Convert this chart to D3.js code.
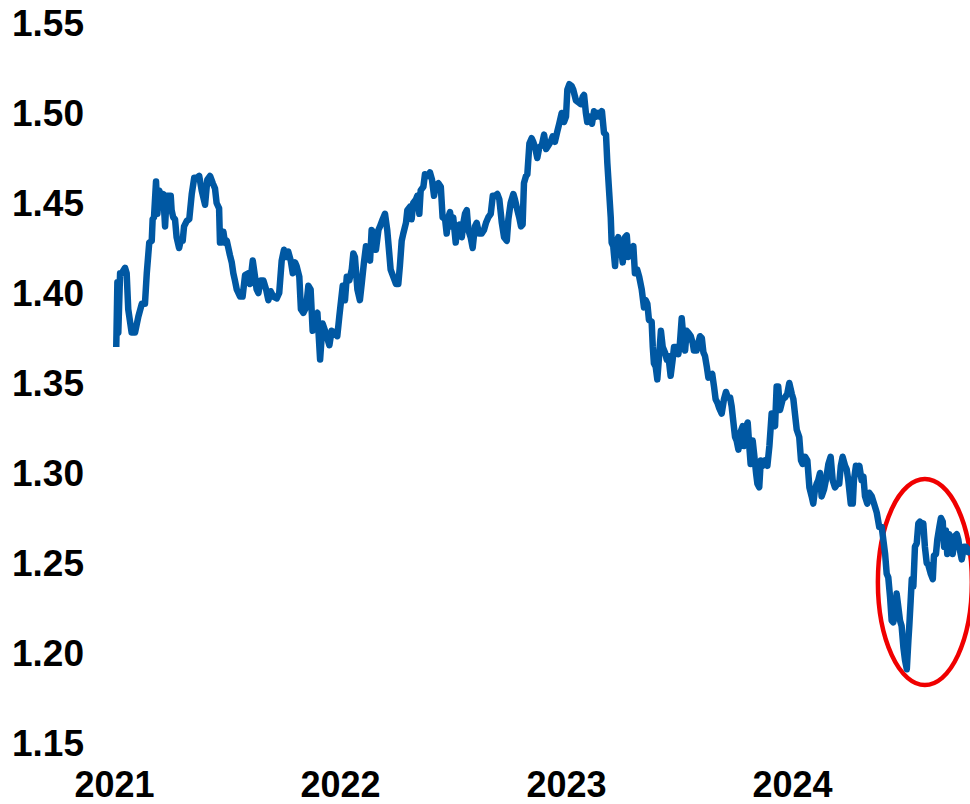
<!DOCTYPE html>
<html>
<head>
<meta charset="utf-8">
<script src="https://cdn.jsdelivr.net/npm/d3@7"></script>
<style>
	body { margin: 0; background: #fff; }
	svg { display: block; background: #fff; }
	.axis text { font-family: "Liberation Sans", Arial, sans-serif; font-weight: bold; fill: #000; }
</style>
</head>
<body>
<div id="chart"></div>
<script>
"use strict";

const width = 970, height = 804;

//---- Data: [years since 1 Jan 2021, rate]
const rate2021 = [[0.010,1.370],[0.015,1.406],[0.019,1.378],[0.027,1.411],[0.034,1.411],[0.049,1.414],[0.056,1.411],[0.063,1.391],[0.078,1.378],[0.093,1.378],[0.108,1.387],[0.123,1.394],[0.137,1.394],[0.145,1.411],[0.156,1.428],[0.167,1.429],[0.171,1.441],[0.177,1.442],[0.186,1.462],[0.192,1.444],[0.200,1.457],[0.211,1.452],[0.218,1.455],[0.226,1.437],[0.233,1.454],[0.245,1.454],[0.251,1.454],[0.255,1.446],[0.262,1.442],[0.270,1.441],[0.277,1.431],[0.288,1.425],[0.295,1.429],[0.304,1.429],[0.310,1.437],[0.322,1.440],[0.333,1.441],[0.344,1.455],[0.355,1.464],[0.366,1.464],[0.377,1.465],[0.388,1.457],[0.403,1.449],[0.413,1.463],[0.425,1.465],[0.437,1.461],[0.447,1.458],[0.454,1.450],[0.465,1.447],[0.469,1.428],[0.477,1.428],[0.484,1.434],[0.491,1.428],[0.499,1.429],[0.506,1.425],[0.513,1.421],[0.521,1.417],[0.528,1.411],[0.535,1.407],[0.543,1.402],[0.558,1.398],[0.569,1.398],[0.580,1.410],[0.594,1.411],[0.602,1.405],[0.614,1.418],[0.624,1.409],[0.631,1.402],[0.639,1.400],[0.649,1.407],[0.661,1.407],[0.673,1.402],[0.683,1.396],[0.693,1.401],[0.705,1.398],[0.720,1.397],[0.731,1.400],[0.742,1.418],[0.752,1.424],[0.761,1.420],[0.771,1.423],[0.782,1.418],[0.791,1.411],[0.801,1.417],[0.808,1.415],[0.820,1.409],[0.827,1.391],[0.838,1.389],[0.850,1.392],[0.860,1.404],[0.870,1.402],[0.879,1.379],[0.889,1.387],[0.900,1.389],[0.912,1.363],[0.923,1.383],[0.934,1.379],[0.941,1.376],[0.953,1.371],[0.963,1.379],[0.978,1.378],[0.988,1.376],[0.997,1.387]];

const rate2022 = [[1.012,1.404],[1.022,1.396],[1.030,1.409],[1.041,1.407],[1.052,1.413],[1.059,1.422],[1.066,1.420],[1.077,1.402],[1.088,1.396],[1.096,1.405],[1.106,1.417],[1.115,1.426],[1.125,1.424],[1.133,1.418],[1.140,1.435],[1.150,1.433],[1.159,1.424],[1.170,1.435],[1.177,1.437],[1.189,1.441],[1.199,1.444],[1.209,1.435],[1.218,1.422],[1.224,1.413],[1.236,1.409],[1.248,1.405],[1.258,1.405],[1.265,1.415],[1.273,1.429],[1.280,1.433],[1.292,1.439],[1.298,1.446],[1.310,1.448],[1.317,1.441],[1.324,1.450],[1.336,1.452],[1.342,1.454],[1.351,1.444],[1.357,1.457],[1.369,1.459],[1.376,1.466],[1.386,1.465],[1.398,1.467],[1.407,1.463],[1.416,1.454],[1.425,1.460],[1.435,1.461],[1.446,1.459],[1.454,1.442],[1.465,1.441],[1.472,1.433],[1.479,1.442],[1.487,1.445],[1.494,1.437],[1.501,1.442],[1.512,1.428],[1.519,1.437],[1.528,1.438],[1.539,1.431],[1.546,1.439],[1.553,1.444],[1.561,1.446],[1.568,1.435],[1.578,1.431],[1.587,1.425],[1.597,1.437],[1.605,1.439],[1.615,1.433],[1.627,1.433],[1.637,1.435],[1.646,1.439],[1.656,1.442],[1.667,1.444],[1.676,1.454],[1.686,1.454],[1.696,1.455],[1.705,1.452],[1.716,1.439],[1.726,1.431],[1.738,1.429],[1.745,1.441],[1.755,1.450],[1.767,1.455],[1.774,1.452],[1.785,1.446],[1.793,1.442],[1.801,1.437],[1.808,1.438],[1.814,1.461],[1.823,1.465],[1.829,1.466],[1.838,1.483],[1.848,1.486],[1.855,1.484],[1.863,1.481],[1.873,1.475],[1.882,1.481],[1.893,1.482],[1.903,1.488],[1.912,1.480],[1.922,1.482],[1.932,1.484],[1.941,1.487],[1.951,1.484],[1.962,1.490],[1.970,1.494],[1.981,1.500],[1.991,1.495]];

const rate2023 = [[2.000,1.498],[2.006,1.513],[2.015,1.516],[2.025,1.515],[2.032,1.513],[2.044,1.507],[2.054,1.506],[2.065,1.505],[2.074,1.509],[2.080,1.510],[2.088,1.500],[2.094,1.495],[2.106,1.498],[2.115,1.494],[2.124,1.501],[2.133,1.498],[2.143,1.500],[2.150,1.498],[2.159,1.501],[2.168,1.489],[2.177,1.488],[2.183,1.472],[2.192,1.454],[2.198,1.442],[2.202,1.428],[2.209,1.426],[2.217,1.415],[2.224,1.429],[2.231,1.431],[2.242,1.426],[2.251,1.417],[2.261,1.431],[2.269,1.432],[2.276,1.420],[2.286,1.424],[2.298,1.426],[2.305,1.411],[2.315,1.413],[2.324,1.409],[2.335,1.402],[2.345,1.392],[2.353,1.396],[2.360,1.394],[2.367,1.385],[2.379,1.384],[2.384,1.370],[2.389,1.361],[2.397,1.359],[2.404,1.352],[2.413,1.367],[2.420,1.379],[2.428,1.370],[2.438,1.367],[2.446,1.363],[2.453,1.365],[2.463,1.354],[2.472,1.363],[2.478,1.370],[2.487,1.370],[2.497,1.366],[2.504,1.372],[2.512,1.386],[2.519,1.376],[2.527,1.368],[2.534,1.379],[2.541,1.378],[2.552,1.376],[2.561,1.372],[2.566,1.368],[2.578,1.368],[2.585,1.372],[2.593,1.376],[2.601,1.375],[2.608,1.367],[2.615,1.365],[2.623,1.359],[2.630,1.353],[2.637,1.354],[2.647,1.355],[2.655,1.348],[2.662,1.341],[2.670,1.339],[2.678,1.336],[2.689,1.333],[2.699,1.341],[2.708,1.345],[2.716,1.342],[2.726,1.342],[2.733,1.337],[2.740,1.329],[2.748,1.320],[2.755,1.318],[2.763,1.313],[2.770,1.322],[2.782,1.326],[2.788,1.315],[2.797,1.326],[2.804,1.328],[2.811,1.315],[2.817,1.305],[2.826,1.318],[2.832,1.311],[2.841,1.300],[2.847,1.294],[2.855,1.292],[2.862,1.307],[2.870,1.304],[2.881,1.307],[2.891,1.304],[2.900,1.315],[2.910,1.333],[2.917,1.333],[2.925,1.326],[2.932,1.348],[2.939,1.348],[2.947,1.335],[2.959,1.341],[2.969,1.342],[2.979,1.344],[2.988,1.350],[2.999,1.344]];

const rate2024 = [[3.006,1.341],[3.013,1.333],[3.021,1.324],[3.032,1.320],[3.040,1.307],[3.047,1.305],[3.058,1.309],[3.068,1.307],[3.077,1.292],[3.087,1.287],[3.094,1.283],[3.102,1.291],[3.109,1.294],[3.116,1.296],[3.124,1.300],[3.131,1.287],[3.142,1.291],[3.150,1.296],[3.161,1.305],[3.171,1.309],[3.180,1.296],[3.190,1.292],[3.201,1.294],[3.209,1.294],[3.216,1.304],[3.224,1.309],[3.235,1.304],[3.242,1.302],[3.249,1.296],[3.260,1.283],[3.269,1.283],[3.274,1.296],[3.283,1.304],[3.289,1.300],[3.298,1.304],[3.308,1.296],[3.316,1.298],[3.323,1.287],[3.333,1.283],[3.342,1.289],[3.353,1.287],[3.363,1.283],[3.375,1.278],[3.386,1.270],[3.397,1.270],[3.404,1.263],[3.412,1.255],[3.419,1.244],[3.426,1.242],[3.434,1.231],[3.441,1.218],[3.448,1.217],[3.456,1.222],[3.463,1.233],[3.470,1.226],[3.478,1.218],[3.485,1.215],[3.493,1.203],[3.500,1.196],[3.508,1.191],[3.515,1.207],[3.519,1.215],[3.525,1.229],[3.530,1.241],[3.537,1.237],[3.544,1.259],[3.552,1.261],[3.559,1.272],[3.566,1.273],[3.574,1.268],[3.581,1.272],[3.588,1.259],[3.596,1.250],[3.603,1.249],[3.614,1.244],[3.623,1.241],[3.628,1.254],[3.637,1.255],[3.643,1.263],[3.652,1.270],[3.659,1.275],[3.667,1.273],[3.673,1.259],[3.681,1.268],[3.687,1.255],[3.696,1.266],[3.704,1.263],[3.711,1.255],[3.721,1.265],[3.729,1.266],[3.736,1.263],[3.743,1.257],[3.751,1.252],[3.761,1.259],[3.770,1.259],[3.780,1.256],[3.797,1.258]];

const yTicks = [1.15, 1.20, 1.25, 1.30, 1.35, 1.40, 1.45, 1.50, 1.55];
const xTicks = [2021, 2022, 2023, 2024];

// circled area: late 2024 dip and rebound
const highlight = { year: 2024.588, rate: 1.2394 };

//---- Scales
const x = d3.scaleLinear().domain([2021, 2025]).range([114, 1018]);
const y = d3.scaleLinear().domain([1.15, 1.55]).range([743, 23]);

const series = [].concat(rate2021, rate2022, rate2023, rate2024)
	.map(d => ({ year: 2021 + d[0], rate: d[1] }));

//---- Chart
const svg = d3.select('#chart').append('svg')
	.attr('width', width)
	.attr('height', height)
	.attr('viewBox', [0, 0, width, height]);

const yAxis = svg.append('g')
	.classed('axis', true)
	.attr('transform', 'translate(84,0)')
	.call(d3.axisLeft(y).tickValues(yTicks).tickFormat(d3.format('.2f')).tickSize(0).tickPadding(0));
yAxis.select('.domain').remove();
yAxis.selectAll('text')
	.attr('font-size', 37)
	.attr('dy', '0.35em');

const xAxis = svg.append('g')
	.classed('axis', true)
	.attr('transform', 'translate(0,797)')
	.call(d3.axisBottom(x).tickValues(xTicks).tickFormat(d3.format('d')).tickSize(0).tickPadding(0));
xAxis.select('.domain').remove();
xAxis.selectAll('text')
	.attr('font-size', 36)
	.attr('y', 0)
	.attr('dy', 0);

svg.append('ellipse')
	.attr('cx', x(highlight.year))
	.attr('cy', y(highlight.rate))
	.attr('rx', 47)
	.attr('ry', 103)
	.attr('fill', 'none')
	.attr('stroke', '#f00000')
	.attr('stroke-width', 4.5);

const line = d3.line()
	.x(d => x(d.year))
	.y(d => y(d.rate));

svg.append('path')
	.datum(series)
	.attr('d', line)
	.attr('fill', 'none')
	.attr('stroke', '#0058a3')
	.attr('stroke-width', 6.5)
	.attr('stroke-linejoin', 'round');
</script>
</body>
</html>
